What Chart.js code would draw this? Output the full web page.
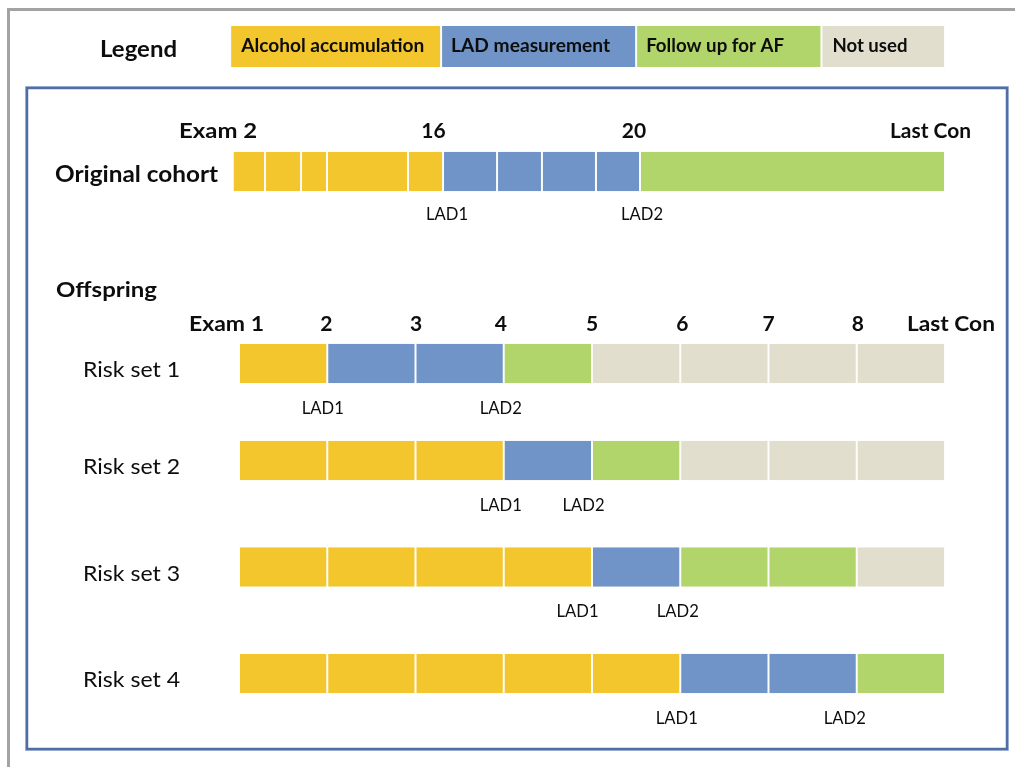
<!DOCTYPE html>
<html>
<head>
<meta charset="utf-8">
<script src="https://cdn.jsdelivr.net/npm/chart.js@4.4.1/dist/chart.umd.min.js"></script>
<style>
  html, body { margin: 0; padding: 0; background: #ffffff; }
  #wrap { width: 1015px; height: 767px; position: relative; }
  canvas { display: block; }
</style>
</head>
<body>
<div id="wrap"><canvas id="c" width="1015" height="767"></canvas></div>
<script>
// ---------------- DATA ----------------
// Phase codes: A = Alcohol accumulation, L = LAD measurement, F = Follow up for AF, N = Not used
const legendLabels = ['Alcohol accumulation', 'LAD measurement', 'Follow up for AF', 'Not used'];
const legendCodes = ['A', 'L', 'F', 'N'];

// Original cohort: header labels and segment edges (in offspring-exam units on the shared axis)
const originalHeader = ['Exam 2', '16', '20', 'Last Con'];
const originalEdges = [-0.07, 0.295, 0.703, 0.997, 1.915, 2.312, 2.924, 3.433, 4.045, 4.544, 8];
const originalPhases = ['A', 'A', 'A', 'A', 'A', 'L', 'L', 'L', 'L', 'F'];
const originalLad = [2.312, 4.544];

// Offspring: exam tick labels (exam 1 .. 8, last contact) at positions 0..8
const offspringExams = ['Exam 1', '2', '3', '4', '5', '6', '7', '8', 'Last Con'];
const riskSetLabels = ['Risk set 1', 'Risk set 2', 'Risk set 3', 'Risk set 4'];
const riskSet1 = ['A', 'L', 'L', 'F', 'N', 'N', 'N', 'N'];
const riskSet2 = ['A', 'A', 'A', 'L', 'F', 'N', 'N', 'N'];
const riskSet3 = ['A', 'A', 'A', 'A', 'L', 'F', 'F', 'N'];
const riskSet4 = ['A', 'A', 'A', 'A', 'A', 'L', 'L', 'F'];
const ladExam1 = [1, 3, 4, 5];   // exam index where LAD1 is measured
const ladExam2 = [3, 4, 5, 7];   // exam index where LAD2 is measured

// ---------------- STYLE / LAYOUT ----------------
const phaseColor = { A: '#F3C62E', L: '#7094C7', F: '#B1D46B', N: '#E1DECD' };
const legendEdges = [-0.1, 2.29, 4.5, 6.6, 8];
const rowY = { legend: 46.5, original: 171.5, risk: [363.5, 460.5, 567, 673.5] };
const FONT = 'Lato, "Open Sans", "DejaVu Sans", sans-serif';

const riskRows = [riskSet1, riskSet2, riskSet3, riskSet4];

function segs(edges, codes, y) {
  return codes.map((c, i) => ({ x: [edges[i], edges[i + 1]], y: y }));
}
function unitEdges(n) { const e = []; for (let i = 0; i <= n; i++) e.push(i); return e; }

function makeDataset(label, edges, codes, y, thick) {
  return {
    label: label,
    data: segs(edges, codes, y),
    backgroundColor: codes.map(c => phaseColor[c]),
    borderColor: '#fbfbf8',
    borderWidth: { left: 1, right: 1, top: 0, bottom: 0 },
    borderSkipped: false,
    barThickness: thick,
    inflateAmount: 0,
    clip: false
  };
}

const datasets = [];
datasets.push(makeDataset('Legend', legendEdges, legendCodes, rowY.legend, 41));
datasets.push(makeDataset('Original cohort', originalEdges, originalPhases, rowY.original, 39.5));
riskRows.forEach((r, i) => datasets.push(makeDataset(riskSetLabels[i], unitEdges(8), r, rowY.risk[i], 39.5)));

function txt(ctx, s, x, y, font, align, w) {
  ctx.save();
  ctx.font = font;
  ctx.fillStyle = '#0d0d0d';
  ctx.textBaseline = 'alphabetic';
  ctx.textAlign = 'left';
  const m = ctx.measureText(s).width;
  let sx = w ? w / m : 1;
  sx = Math.max(0.75, Math.min(1.3, sx));
  const tw = m * sx;
  const left = align === 'left' ? x : (align === 'right' ? x - tw : x - tw / 2);
  ctx.translate(left, y);
  ctx.scale(sx, 1);
  ctx.fillText(s, 0, 0);
  ctx.restore();
}

const framePlugin = {
  id: 'frames',
  beforeDraw(chart) {
    const ctx = chart.ctx;
    ctx.save();
    ctx.fillStyle = '#ffffff';
    ctx.fillRect(0, 0, chart.width, chart.height);
    // outer grey frame (top and left)
    ctx.strokeStyle = '#a3a3a3';
    ctx.lineWidth = 3;
    ctx.beginPath();
    ctx.moveTo(1015, 9.5);
    ctx.lineTo(8.5, 9.5);
    ctx.lineTo(8.5, 767);
    ctx.stroke();
    // inner blue box
    ctx.strokeStyle = '#b4c3dd';
    ctx.lineWidth = 1;
    ctx.strokeRect(25.5, 86.5, 983, 664);
    ctx.strokeStyle = '#4f6ea6';
    ctx.lineWidth = 2.5;
    ctx.strokeRect(27, 88, 980, 661);
    ctx.restore();
  },
  afterDraw(chart) {
    const ctx = chart.ctx;
    const xs = chart.scales.x, ys = chart.scales.y;
    const px = v => xs.getPixelForValue(v);
    const py = v => ys.getPixelForValue(v);

    // Legend
    txt(ctx, 'Legend', 100, 57, 'bold 23px ' + FONT, 'left', 77);
    const legendW = [183, 159, 138, 75];
    const legendDx = [11, 10, 10, 11];
    legendLabels.forEach((s, i) => {
      txt(ctx, s, px(legendEdges[i]) + legendDx[i], 52, 'bold 19px ' + FONT, 'left', legendW[i]);
    });

    // Original cohort
    const origHdrX = [px(originalEdges[0]) - 14.7, px(originalEdges[5]) - 9.5, px(originalEdges[9]) - 6, px(8) - 14.5];
    const origHdrW = [78, null, null, 81];
    originalHeader.forEach((s, i) => txt(ctx, s, origHdrX[i], 138, 'bold 21px ' + FONT, 'center', origHdrW[i]));
    txt(ctx, 'Original cohort', 218, 182, 'bold 23px ' + FONT, 'right', 163);
    txt(ctx, 'LAD1', px(originalLad[0]) + 4, 220, '16.5px ' + FONT, 'center', 42);
    txt(ctx, 'LAD2', px(originalLad[1]) + 2, 220, '16.5px ' + FONT, 'center', 42);

    // Offspring
    txt(ctx, 'Offspring', 56, 297, 'bold 21px ' + FONT, 'left', 101);
    const hdrDx = [-12.5, -1, 0.5, -3, 0, 2, 0, 1, 6];
    const hdrW = [75, null, null, null, null, null, null, null, 88];
    offspringExams.forEach((s, i) => txt(ctx, s, px(i) + hdrDx[i], 331, 'bold 21px ' + FONT, 'center', hdrW[i]));

    const lad1Dx = [-4.5, -3, -14.5, -3.5];
    const lad2Dx = [-3, -8.5, -2.5, -12];
    riskSetLabels.forEach((s, i) => {
      const yc = py(rowY.risk[i]);
      txt(ctx, s, 83, yc + 13.5, '21px ' + FONT, 'left', 97);
      txt(ctx, 'LAD1', px(ladExam1[i]) + lad1Dx[i], yc + 50, '16.5px ' + FONT, 'center', 42);
      txt(ctx, 'LAD2', px(ladExam2[i]) + lad2Dx[i], yc + 50, '16.5px ' + FONT, 'center', 42);
    });
  }
};

new Chart(document.getElementById('c'), {
  type: 'bar',
  data: { datasets: datasets },
  options: {
    indexAxis: 'y',
    responsive: false,
    animation: false,
    events: [],
    grouped: false,
    layout: { padding: { left: 239 - 0.1 * 88.25, right: 70, top: 0, bottom: 0 } },
    scales: {
      x: { type: 'linear', min: -0.1, max: 8, offset: false, display: false },
      y: { type: 'linear', min: 0, max: 767, reverse: true, offset: false, display: false }
    },
    plugins: { legend: { display: false }, tooltip: { enabled: false } }
  },
  plugins: [framePlugin]
});
</script>
</body>
</html>
